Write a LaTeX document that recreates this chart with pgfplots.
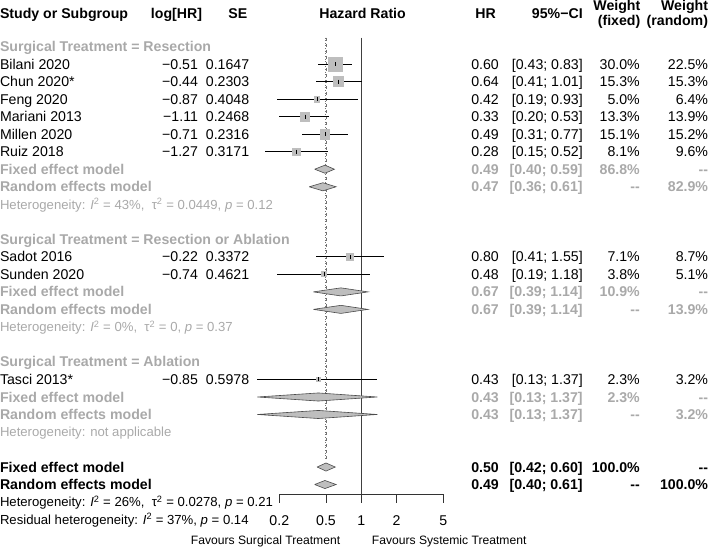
\documentclass[border=0pt]{standalone}
\usepackage{fontspec}
\setmainfont{Liberation Sans}
\usepackage{pgfplots}
\pgfplotsset{compat=1.18}
\usepackage{pgfplotstable}
\definecolor{txtgray}{HTML}{A9A9A9}
\definecolor{sqgray}{HTML}{BEBEBE}
\definecolor{dmgray}{HTML}{BEBEBE}
\newcommand{\PX}[1]{(360.7+50.378*ln(#1))}

\pgfplotstableread{
name hr lo hi w y
Bilani 0.60 0.43 0.83 30.0 77.3
Chun 0.64 0.41 1.01 15.3 94.7
Feng 0.42 0.19 0.93 5.0 112
Mariani 0.33 0.20 0.53 13.3 129.3
Millen 0.49 0.31 0.77 15.1 146.7
Ruiz 0.28 0.15 0.52 8.1 164
Sadot 0.80 0.41 1.55 7.1 268
Sunden 0.48 0.19 1.18 3.8 285.3
Tasci 0.43 0.13 1.37 2.3 389.3
}\studies

% diamond: lo est hi y
\newcommand{\diam}[4]{%
\addplot[fill=dmgray, draw=black!70, line width=0.6pt] table[row sep=\\, x expr=\PX{\thisrow{h}}, y expr=#4+\thisrow{d}] {h d\\ #1 0\\ #2 -4\\ #3 0\\ #2 4\\ #1 0\\};}

\tikzset{
 tl/.style={anchor=base west, inner sep=0pt, yshift=-5pt},
 tr/.style={anchor=base east, inner sep=0pt, yshift=-5pt},
 tc/.style={anchor=base, inner sep=0pt, yshift=-5pt},
 hl/.style={anchor=base west, inner sep=0pt, yshift=-4.7pt, font=\fontsize{13}{15}\selectfont},
 fv/.style={inner sep=0pt, yshift=-4.3pt, font=\fontsize{12}{14}\selectfont},
}
% study row: y name lhr se hr ci wf wr
\newcommand{\srow}[8]{%
 \node[tl] at (axis cs:3,#1) {#2};
 \node[tr] at (axis cs:199.3,#1) {#3};
 \node[tr] at (axis cs:250,#1) {#4};
 \node[tr] at (axis cs:497,#1) {#5};
 \node[tr] at (axis cs:580,#1) {#6};
 \node[tr] at (axis cs:636.5,#1) {#7};
 \node[tr] at (axis cs:704,#1) {#8};}
% summary row: y name hr ci wf wr (bold)
\newcommand{\mrow}[6]{%
 \node[tl] at (axis cs:3,#1) {\bfseries #2};
 \node[tr] at (axis cs:497,#1) {\bfseries #3};
 \node[tr] at (axis cs:580,#1) {\bfseries #4};
 \node[tr] at (axis cs:636.5,#1) {\bfseries #5};
 \node[tr] at (axis cs:704,#1) {\bfseries #6};}

\begin{document}
\fontsize{14}{16.8}\selectfont
\begin{tikzpicture}
\begin{axis}[
 width=708pt, height=557pt, scale only axis,
 xmin=0, xmax=708, ymin=0, ymax=557, y dir=reverse,
 axis lines=none, ticks=none, clip=false,
]
% reference lines
\addplot[black!75, line width=0.7pt] table[row sep=\\, x expr=\PX{\thisrow{h}}, y=y] {h y\\ 1 51\\ 1 502.7\\};
\addplot[black!55, line width=0.6pt, dashed] table[row sep=\\, x expr=\PX{\thisrow{h}}, y=y] {h y\\ 0.50 51\\ 0.50 468\\};
\addplot[black!55, line width=0.6pt, dotted] table[row sep=\\, x expr=\PX{\thisrow{h}}, y=y] {h y\\ 0.49 51\\ 0.49 468\\};

% squares
\addplot[scatter, only marks, mark=square*,
 mark options={draw=sqgray, fill=sqgray, line width=0pt},
 scatter/use mapped color={draw=sqgray, fill=sqgray},
 visualization depends on={1.25*sqrt(\thisrow{w}) \as \msz},
 scatter/@pre marker code/.append style={/tikz/mark size=\msz}]
 table[x expr=\PX{\thisrow{hr}}, y=y] {\studies};
% CIs and estimate ticks
\addplot[only marks, mark=|, mark size=2pt, mark options={black, line width=0.6pt},
 error bars/.cd, x dir=both, x explicit, error mark=none,
 error bar style={black, line width=0.8pt}]
 table[x expr=\PX{\thisrow{hr}}, y=y,
  x error plus expr=\PX{\thisrow{hi}}-\PX{\thisrow{hr}},
  x error minus expr=\PX{\thisrow{hr}}-\PX{\thisrow{lo}}] {\studies};

% diamonds
\diam{0.40}{0.49}{0.59}{181.3}
\diam{0.36}{0.47}{0.61}{198.7}
\diam{0.39}{0.67}{1.14}{302.7}
\diam{0.39}{0.67}{1.14}{320}
\diam{0.13}{0.43}{1.37}{406.7}
\diam{0.13}{0.43}{1.37}{424}
\diam{0.42}{0.50}{0.60}{476}
\diam{0.40}{0.49}{0.61}{493.3}

% x axis
\addplot[black!80, line width=0.7pt] table[row sep=\\, x expr=\PX{\thisrow{h}}, y=y] {h y\\ 0.2 511.5\\ 0.2 502.7\\ 5 502.7\\ 5 511.5\\};
\addplot[black!80, line width=0.7pt] table[row sep=\\, x expr=\PX{\thisrow{h}}, y=y] {h y\\ 0.5 502.7\\ 0.5 511.5\\};
\addplot[black!80, line width=0.7pt] table[row sep=\\, x expr=\PX{\thisrow{h}}, y=y] {h y\\ 1 502.7\\ 1 511.5\\};
\addplot[black!80, line width=0.7pt] table[row sep=\\, x expr=\PX{\thisrow{h}}, y=y] {h y\\ 2 502.7\\ 2 511.5\\};
\node[tc] at (axis cs:279.6,529) {0.2};
\node[tc] at (axis cs:325.8,529) {0.5};
\node[tc] at (axis cs:360.7,529) {1};
\node[tc] at (axis cs:395.6,529) {2};
\node[tc] at (axis cs:441.8,529) {5};
\node[fv, anchor=base east] at (axis cs:340,548) {Favours Surgical Treatment};
\node[fv, anchor=base west] at (axis cs:371,548) {Favours Systemic Treatment};

% header
\begin{scope}[font=\bfseries]
\node[tl] at (axis cs:3,27) {Study or Subgroup};
\node[tr] at (axis cs:203.3,27) {log[HR]};
\node[tr] at (axis cs:248,27) {SE};
\node[tc] at (axis cs:362,27) {Hazard Ratio};
\node[tr] at (axis cs:494,27) {HR};
\node[tr] at (axis cs:580,27) {95\%−CI};
\node[tr] at (axis cs:637,19) {Weight};
\node[tr] at (axis cs:637,34) {(fixed)};
\node[tr] at (axis cs:704,19) {Weight};
\node[tr] at (axis cs:704,34) {(random)};
\end{scope}

% group 1
\node[tl, text=txtgray, font=\bfseries] at (axis cs:3,60) {Surgical Treatment = Resection};
\srow{77.3}{Bilani 2020}{−0.51}{0.1647}{0.60}{[0.43; 0.83]}{30.0\%}{22.5\%}
\srow{94.7}{Chun 2020*}{−0.44}{0.2303}{0.64}{[0.41; 1.01]}{15.3\%}{15.3\%}
\srow{112}{Feng 2020}{−0.87}{0.4048}{0.42}{[0.19; 0.93]}{5.0\%}{6.4\%}
\srow{129.3}{Mariani 2013}{−1.11}{0.2468}{0.33}{[0.20; 0.53]}{13.3\%}{13.9\%}
\srow{146.7}{Millen 2020}{−0.71}{0.2316}{0.49}{[0.31; 0.77]}{15.1\%}{15.2\%}
\srow{164}{Ruiz 2018}{−1.27}{0.3171}{0.28}{[0.15; 0.52]}{8.1\%}{9.6\%}
\begin{scope}[text=txtgray]
\mrow{181.3}{Fixed effect model}{0.49}{[0.40; 0.59]}{86.8\%}{-{}-}
\mrow{198.7}{Random effects model}{0.47}{[0.36; 0.61]}{-{}-}{82.9\%}
\node[hl] at (axis cs:3,216) {Heterogeneity: \textit{I}\textsuperscript{2} = 43\%, \ τ\textsuperscript{2} = 0.0449, \textit{p} = 0.12};
\end{scope}

% group 2
\node[tl, text=txtgray, font=\bfseries] at (axis cs:3,250.7) {Surgical Treatment = Resection or Ablation};
\srow{268}{Sadot 2016}{−0.22}{0.3372}{0.80}{[0.41; 1.55]}{7.1\%}{8.7\%}
\srow{285.3}{Sunden 2020}{−0.74}{0.4621}{0.48}{[0.19; 1.18]}{3.8\%}{5.1\%}
\begin{scope}[text=txtgray]
\mrow{302.7}{Fixed effect model}{0.67}{[0.39; 1.14]}{10.9\%}{-{}-}
\mrow{320}{Random effects model}{0.67}{[0.39; 1.14]}{-{}-}{13.9\%}
\node[hl] at (axis cs:3,337.3) {Heterogeneity: \textit{I}\textsuperscript{2} = 0\%, \ τ\textsuperscript{2} = 0, \textit{p} = 0.37};
\end{scope}

% group 3
\node[tl, text=txtgray, font=\bfseries] at (axis cs:3,372) {Surgical Treatment = Ablation};
\srow{389.3}{Tasci 2013*}{−0.85}{0.5978}{0.43}{[0.13; 1.37]}{2.3\%}{3.2\%}
\begin{scope}[text=txtgray]
\mrow{406.7}{Fixed effect model}{0.43}{[0.13; 1.37]}{2.3\%}{-{}-}
\mrow{424}{Random effects model}{0.43}{[0.13; 1.37]}{-{}-}{3.2\%}
\node[hl] at (axis cs:3,441.3) {Heterogeneity: not applicable};
\end{scope}

% overall
\mrow{476}{Fixed effect model}{0.50}{[0.42; 0.60]}{100.0\%}{-{}-}
\mrow{493.3}{Random effects model}{0.49}{[0.40; 0.61]}{-{}-}{100.0\%}
\node[hl] at (axis cs:3,510.7) {Heterogeneity: \textit{I}\textsuperscript{2} = 26\%, \ τ\textsuperscript{2} = 0.0278, \textit{p} = 0.21};
\node[hl] at (axis cs:3,528) {Residual heterogeneity: \textit{I}\textsuperscript{2} = 37\%, \textit{p} = 0.14};
\end{axis}
\end{tikzpicture}
\end{document}
